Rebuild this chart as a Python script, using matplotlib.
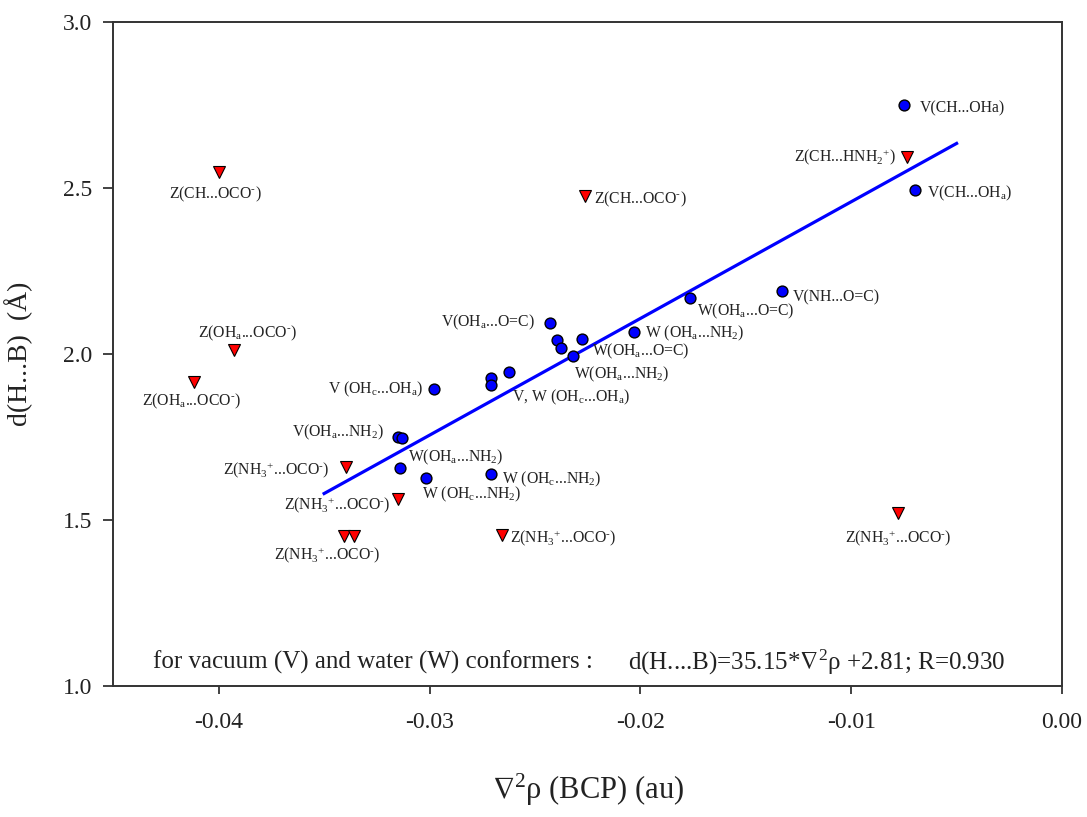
import matplotlib
matplotlib.use("Agg")
import matplotlib.pyplot as plt

plt.rcParams['font.family'] = ['Liberation Serif', 'DejaVu Serif']
plt.rcParams['mathtext.fontset'] = 'custom'
plt.rcParams['mathtext.rm'] = 'Liberation Serif'
plt.rcParams['mathtext.default'] = 'regular'

# ---- data ----
tri_x = [-0.0400, -0.02262, -0.03927, -0.04116, -0.00736, -0.03398, -0.03149,
         -0.03406, -0.03360, -0.02655, -0.00778]
tri_y = [2.549, 2.476, 2.012, 1.917, 2.592, 1.659, 1.564, 1.453, 1.453, 1.456, 1.521]

circ_x = [-0.03151, -0.03130, -0.03138, -0.03018, -0.02708, -0.02979, -0.02710,
          -0.02710, -0.02621, -0.02428, -0.02394, -0.02376, -0.02275, -0.02319,
          -0.02031, -0.01764, -0.01328, -0.00750, -0.00695]
circ_y = [1.749, 1.747, 1.658, 1.627, 1.638, 1.894, 1.927, 1.908, 1.946, 2.094,
          2.041, 2.019, 2.046, 1.993, 2.065, 2.168, 2.189, 2.750, 2.494]

fit_slope = 35.15
fit_intercept = 2.81
fit_x = [-0.035, -0.005]

ZOCO = r'Z(NH$_{3}$$^{+}$...OCO$^{\text{-}}$)'
tri_labels = {
    0: r'Z(CH...OCO$^{\text{-}}$)',
    1: r'Z(CH...OCO$^{\text{-}}$)',
    2: r'Z(OH$_{a}$...OCO$^{\text{-}}$)',
    3: r'Z(OH$_{a}$...OCO$^{\text{-}}$)',
    4: r'Z(CH...HNH$_{2}$$^{+}$)',
    5: ZOCO, 6: ZOCO, 7: ZOCO, 9: ZOCO, 10: ZOCO,
}
circ_labels = {
    0: r'V(OH$_{a}$...NH$_{2}$)',
    2: r'W(OH$_{a}$...NH$_{2}$)',
    3: r'W (OH$_{c}$...NH$_{2}$)',
    4: r'W (OH$_{c}$...NH$_{2}$)',
    5: r'V (OH$_{c}$...OH$_{a}$)',
    7: r'V, W (OH$_{c}$...OH$_{a}$)',
    9: r'V(OH$_{a}$...O=C)',
    12: r'W(OH$_{a}$...O=C)',
    13: r'W(OH$_{a}$...NH$_{2}$)',
    14: r'W (OH$_{a}$...NH$_{2}$)',
    15: r'W(OH$_{a}$...O=C)',
    16: r'V(NH...O=C)',
    17: r'V(CH...OHa)',
    18: r'V(CH...OH$_{a}$)',
}
x_ticks = [-0.04, -0.03, -0.02, -0.01, 0.00]
y_ticks = [1.0, 1.5, 2.0, 2.5, 3.0]
note_left = 'for vacuum (V) and water (W) conformers :'
note_right = 'd(H....B)=35.15*$\\nabla^{2}$ρ +2.81; R=0.930'

# ---- label layout (pixel offsets, ha) ----
tri_layout = {0: (-3, 23, 'center'), 1: (9, 3, 'left'), 2: (13, -17, 'center'),
              3: (-3, 20, 'center'), 4: (-11, 0, 'right'), 5: (-16, 3, 'right'),
              6: (-8, 6, 'right'), 7: (-17, 19, 'center'), 9: (8, 3, 'left'),
              10: (0, 25, 'center')}
circ_layout = {0: (-14, -5, 'right'), 2: (8, -10, 'left'), 3: (-4, 17, 'left'),
               4: (11, 5, 'left'), 5: (-11, 0, 'right'), 7: (21, 13, 'left'),
               9: (-15, 0, 'right'), 12: (10, 13, 'left'), 13: (1, 18, 'left'),
               14: (11, 1, 'left'), 15: (7, 13, 'left'), 16: (11, 6, 'left'),
               17: (16, 3, 'left'), 18: (12, 3, 'left')}

fig = plt.figure(figsize=(10.87, 8.17), dpi=100)
ax = fig.add_axes([113.3 / 1087, 1 - 686 / 817, (1062 - 113.3) / 1087, (686 - 22) / 817])

fy = [fit_slope * x + fit_intercept for x in fit_x]
ax.plot(fit_x, fy, color='#0000ff', lw=2.3, zorder=2)
ax.plot(circ_x, circ_y, 'o', ms=7.8, mfc='#0000ff', mec='black', mew=1.0, ls='none', zorder=3)
ax.plot(tri_x, tri_y, 'v', ms=9.0, mfc='#ff0000', mec='black', mew=0.8, ls='none', zorder=3)

lab_kw = dict(textcoords='offset pixels', va='center', fontsize=11.3, color='#222222')
for i, t in tri_labels.items():
    dx, dy, ha = tri_layout[i]
    ax.annotate(t, (tri_x[i], tri_y[i]), xytext=(dx, -dy), ha=ha, **lab_kw)
for i, t in circ_labels.items():
    dx, dy, ha = circ_layout[i]
    ax.annotate(t, (circ_x[i], circ_y[i]), xytext=(dx, -dy), ha=ha, **lab_kw)

ax.text(0.042, 0.035, note_left, transform=ax.transAxes, ha='left', va='center',
        fontsize=18, color='#222222')
ax.text(0.5425, 0.035, note_right, transform=ax.transAxes, ha='left', va='center',
        fontsize=18, color='#222222')

ax.set_xlim(-0.045, 0.0)
ax.set_ylim(1.0, 3.0)
ax.set_xticks(x_ticks)
ax.set_xticklabels([f'{v:.2f}' for v in x_ticks])
ax.set_yticks(y_ticks)
ax.set_yticklabels([f'{v:.1f}' for v in y_ticks])
ax.tick_params(axis='x', direction='out', length=6, width=1.2, pad=13, labelsize=17, colors='#222222')
ax.tick_params(axis='y', direction='out', length=7.2, width=1.2, pad=8, labelsize=17, colors='#222222')
for s in ax.spines.values():
    s.set_linewidth(1.4)
    s.set_color('#333333')

ax.set_xlabel('$\\nabla^{2}$ρ (BCP) (au)', fontsize=22, labelpad=28, color='#222222')
ax.set_ylabel('d(H...B)  (Å)', fontsize=20, color='#222222')
ax.yaxis.set_label_coords(-0.085, 0.5)

fig.savefig('out.png', dpi=100)
